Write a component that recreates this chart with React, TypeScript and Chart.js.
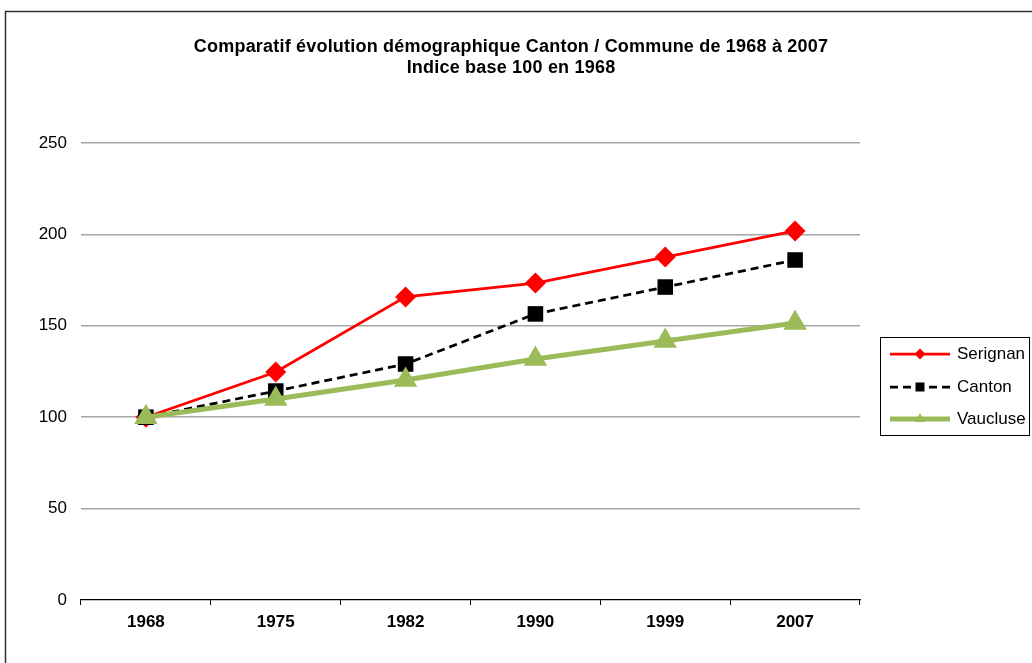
import React, { useEffect, useRef } from "react";
import { Chart, registerables } from "chart.js";
Chart.register(...registerables);

const years = ["1968", "1975", "1982", "1990", "1999", "2007"];
const serignan = [100, 124.7, 165.8, 173.4, 187.6, 201.9];
const canton = [100, 114.3, 129.1, 156.5, 171.2, 186];
const vaucluse = [100, 110, 120.4, 131.8, 141.7, 151.5];
const seriesNames = ["Serignan", "Canton", "Vaucluse"];
const titleLines = [
  "Comparatif évolution démographique Canton / Commune de 1968 à 2007",
  "Indice base 100 en 1968",
];

const FONT = '"Liberation Sans", Arial, sans-serif';

function drawMarker(ctx: CanvasRenderingContext2D, style: string, x: number, y: number, r: number, color: string) {
  ctx.save();
  ctx.fillStyle = color;
  ctx.setLineDash([]);
  ctx.beginPath();
  if (style === "rectRot") {
    ctx.moveTo(x, y - r);
    ctx.lineTo(x + r, y);
    ctx.lineTo(x, y + r);
    ctx.lineTo(x - r, y);
  } else if (style === "rect") {
    ctx.rect(x - r, y - r, 2 * r, 2 * r);
  } else {
    ctx.moveTo(x, y - r);
    ctx.lineTo(x + r * 0.866, y + r * 0.5);
    ctx.lineTo(x - r * 0.866, y + r * 0.5);
  }
  ctx.closePath();
  ctx.fill();
  ctx.restore();
}

const decorPlugin = {
  id: "decor",
  afterDraw(chart: any) {
    const ctx: CanvasRenderingContext2D = chart.ctx;
    ctx.save();
    ctx.strokeStyle = "#333";
    ctx.lineWidth = 1.5;
    ctx.strokeRect(5.5, 11.5, 1200, 1000);
    ctx.fillStyle = "#000";
    ctx.font = `bold 18px ${FONT}`;
    (ctx as any).letterSpacing = "0.2px";
    ctx.textAlign = "center";
    ctx.textBaseline = "middle";
    ctx.fillText(titleLines[0], 511, 47);
    ctx.fillText(titleLines[1], 511, 68);
    (ctx as any).letterSpacing = "0px";
    ctx.lineWidth = 1;
    ctx.strokeStyle = "#000";
    ctx.strokeRect(880.5, 337.5, 149, 98);
    const rows = [354, 387, 419];
    chart.data.datasets.forEach((ds: any, i: number) => {
      const y = rows[i];
      ctx.save();
      ctx.strokeStyle = ds.borderColor;
      ctx.lineWidth = ds.borderWidth;
      ctx.setLineDash(ds.borderDash || []);
      ctx.beginPath();
      ctx.moveTo(890, y);
      ctx.lineTo(950, y);
      ctx.stroke();
      ctx.restore();
      drawMarker(ctx, ds.pointStyle, 920, y, ds.legendR, ds.backgroundColor);
      ctx.fillStyle = "#000";
      ctx.font = `17px ${FONT}`;
      ctx.textAlign = "left";
      ctx.textBaseline = "middle";
      ctx.fillText(ds.label, 957, y);
    });
    ctx.restore();
  },
};

export default function App() {
  const ref = useRef<HTMLCanvasElement | null>(null);
  useEffect(() => {
    if (!ref.current) return;
    const chart = new Chart(ref.current, {
      type: "line",
      data: {
        labels: years,
        datasets: [
          {
            label: seriesNames[0],
            data: serignan,
            borderColor: "#FF0000",
            backgroundColor: "#FF0000",
            borderWidth: 2.75,
            pointStyle: "rectRot",
            pointRadius: 10.5,
            pointBorderWidth: 0,
            order: 3,
            legendR: 5.5,
          } as any,
          {
            label: seriesNames[1],
            data: canton,
            borderColor: "#000000",
            backgroundColor: "#000000",
            borderWidth: 2.75,
            borderDash: [8, 5],
            pointStyle: "rect",
            pointRadius: 11,
            pointBorderWidth: 0,
            order: 2,
            legendR: 4.5,
          } as any,
          {
            label: seriesNames[2],
            data: vaucluse,
            borderColor: "#9BBB59",
            backgroundColor: "#9BBB59",
            borderWidth: 5,
            pointStyle: "triangle",
            pointRadius: 13.5,
            pointBorderWidth: 0,
            order: 1,
            legendR: 6,
          } as any,
        ],
      },
      options: {
        responsive: false,
        animation: false,
        layout: { padding: { top: 143, right: 172, left: 0, bottom: 0 } },
        plugins: { legend: { display: false }, title: { display: false }, tooltip: { enabled: false } },
        elements: { line: { tension: 0 } },
        scales: {
          x: {
            offset: true,
            afterFit: (s: any) => { s.height = 63; },
            grid: {
              offset: true,
              drawOnChartArea: false,
              drawTicks: true,
              tickLength: 5,
              color: "#000",
            },
            border: { display: true, color: "#000", dash: [4, 3], width: 1.25 },
            ticks: { color: "#000", font: { family: FONT, size: 17, weight: "bold" }, padding: 7 },
          },
          y: {
            min: 0,
            max: 250,
            afterFit: (s: any) => { s.width = 81; },
            ticks: { stepSize: 50, color: "#000", font: { family: FONT, size: 17 }, padding: 14 },
            grid: {
              drawTicks: false,
              color: (c: any) => (c.tick && c.tick.value === 0 ? "rgba(0,0,0,0)" : "#a6a6a6"),
              lineWidth: 1.5,
            },
            border: { display: false },
          },
        },
      },
      plugins: [decorPlugin],
    });
    return () => chart.destroy();
  }, []);
  return (
    <div style={{ position: "fixed", left: 0, top: 0, width: 1032, height: 663, background: "#fff" }}>
      <canvas ref={ref} width={1032} height={663} style={{ display: "block" }} />
    </div>
  );
}
